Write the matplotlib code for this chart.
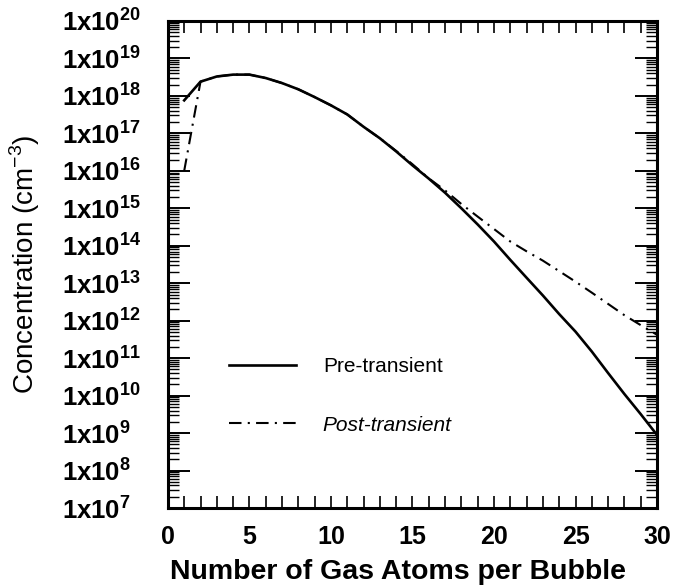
import matplotlib
matplotlib.use("Agg")
from matplotlib import pyplot as plt
from matplotlib.ticker import FixedLocator, MultipleLocator, LogLocator, NullFormatter

plt.rcParams['font.family'] = ['Liberation Sans', 'DejaVu Sans']
plt.rcParams['mathtext.fontset'] = 'custom'
plt.rcParams['mathtext.rm'] = 'Liberation Sans'
plt.rcParams['mathtext.bf'] = 'Liberation Sans:bold'

gas_atoms = [1, 2, 3, 4, 5, 6, 7, 8, 9, 10, 11, 12, 13, 14, 15,
             16, 17, 18, 19, 20, 21, 22, 23, 24, 25, 26, 27, 28, 29, 30]

pre_transient = [7.6e17, 2.4e18, 3.3e18, 3.7e18, 3.7e18, 3.0e18, 2.2e18, 1.5e18,
                 9.3e17, 5.6e17, 3.2e17, 1.5e17, 7.4e16, 3.3e16, 1.4e16, 6.2e15,
                 2.6e15, 1.0e15, 3.7e14, 1.3e14, 4.2e13, 1.4e13, 4.7e12, 1.5e12,
                 5.1e11, 1.5e11, 4.0e10, 1.1e10, 3.2e9, 8.9e8]

post_transient = [1.0e16, 2.4e18, 3.3e18, 3.7e18, 3.7e18, 3.0e18, 2.2e18, 1.5e18,
                  9.3e17, 5.6e17, 3.2e17, 1.5e17, 7.4e16, 3.4e16, 1.5e16, 6.3e15,
                  3.0e15, 1.3e15, 6.0e14, 2.8e14, 1.3e14, 7.1e13, 4.0e13, 2.1e13,
                  1.1e13, 5.6e12, 2.8e12, 1.4e12, 7.6e11, 4.2e11]

x_ticks = [0, 5, 10, 15, 20, 25, 30]
y_exponents = [7, 8, 9, 10, 11, 12, 13, 14, 15, 16, 17, 18, 19, 20]

fig = plt.figure(figsize=(6.77, 5.86), dpi=100)
ax = fig.add_axes([0.248, 0.1331, 0.7225, 0.8311])

ax.plot(gas_atoms, pre_transient, color='black', lw=1.9, label='Pre-transient')
ax.plot(gas_atoms, post_transient, color='black', lw=1.5,
        linestyle=(0, (6, 3, 1, 3)), label='Post-transient')

ax.set_yscale('log')
ax.set_xlim(0, 30)
ax.set_ylim(1e7, 1e20)

ax.xaxis.set_major_locator(FixedLocator(x_ticks))
ax.xaxis.set_minor_locator(MultipleLocator(1))
ax.set_xticklabels([str(t) for t in x_ticks], fontsize=18, fontweight='bold')

yt = [10.0 ** e for e in y_exponents]
ax.yaxis.set_major_locator(FixedLocator(yt))
ax.yaxis.set_minor_locator(LogLocator(base=10, subs=(2, 3, 4, 5, 6, 7, 8, 9), numticks=50))
ax.yaxis.set_minor_formatter(NullFormatter())
ax.set_yticklabels([r'$\mathregular{1x10^{%d}}$' % e for e in y_exponents],
                   fontsize=18.5, fontweight='bold')
for lab in ax.get_yticklabels():
    lab.set_horizontalalignment('left')

for s in ax.spines.values():
    s.set_linewidth(2.2)

ax.tick_params(axis='x', which='both', direction='in', top=True, bottom=True,
               length=8.5, width=1.2, pad=12)
ax.tick_params(axis='y', which='major', direction='in', left=True, right=True,
               length=16, width=1.4, pad=76)
ax.tick_params(axis='y', which='minor', direction='in', left=True, right=True,
               length=8, width=1.0)

ax.set_xlabel('Number of Gas Atoms per Bubble', fontsize=20.5, fontweight='bold')
ax.xaxis.set_label_coords(0.47, -0.105)
ax.set_ylabel('Concentration (cm$^{-3}$)', fontsize=20, labelpad=15)

leg = ax.legend(loc='upper left', bbox_to_anchor=(0.125, 0.31), frameon=False,
                fontsize=15, handlelength=3.2, handletextpad=1.3, labelspacing=1.9,
                borderpad=0, borderaxespad=0)
leg.get_texts()[1].set_fontstyle('italic')

fig.savefig('out.png', dpi=100)
